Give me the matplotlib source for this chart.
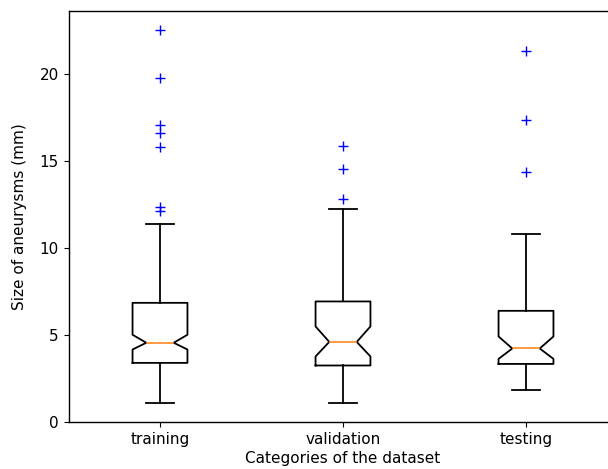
import matplotlib
matplotlib.use("Agg")
import matplotlib.pyplot as plt

categories = ["training", "validation", "testing"]
whislo = [1.05, 1.05, 1.79]
q1 = [3.38, 3.23, 3.32]
med = [4.54, 4.59, 4.21]
q3 = [6.84, 6.92, 6.38]
whishi = [11.39, 12.22, 10.78]
ci_low = [4.15, 3.75, 3.61]
ci_high = [5.00, 5.48, 4.90]
fliers = [
    [22.58, 19.81, 17.10, 16.62, 15.81, 12.35, 12.16],
    [15.87, 14.58, 12.84],
    [21.34, 17.35, 14.37],
]

stats = []
for i, name in enumerate(categories):
    stats.append({
        "label": name,
        "whislo": whislo[i],
        "q1": q1[i],
        "med": med[i],
        "q3": q3[i],
        "whishi": whishi[i],
        "cilo": ci_low[i],
        "cihi": ci_high[i],
        "fliers": fliers[i],
    })

plt.rcParams["font.size"] = 11
plt.rcParams["axes.linewidth"] = 1.0

fig = plt.figure(figsize=(6.08, 4.69), dpi=100)
ax = fig.add_axes([68.5 / 608, 1 - 422 / 469, 549 / 608, 411 / 469])
lw = 1.3
ax.bxp(stats, shownotches=True,
       boxprops=dict(linewidth=lw),
       whiskerprops=dict(linewidth=lw),
       capprops=dict(linewidth=lw),
       medianprops=dict(linewidth=1.1),
       flierprops=dict(marker="+", markeredgecolor="b", markersize=7,
                       linestyle="none"))
ax.set_xlabel("Categories of the dataset", labelpad=3)
ax.set_ylabel("Size of aneurysms (mm)", labelpad=9)

fig.savefig("out.png", dpi=100)
